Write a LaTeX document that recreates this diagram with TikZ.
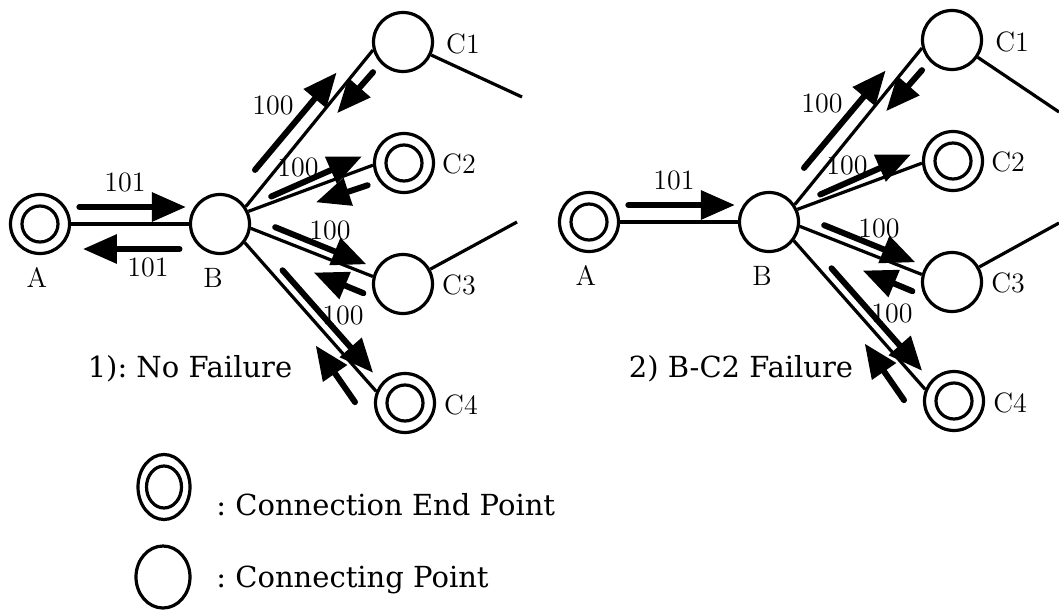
\documentclass[tikz,border=0pt]{standalone}
\usepackage{fontspec}
\usepackage{tikz}
\usetikzlibrary{arrows.meta,positioning,calc,shapes.geometric}
\newfontfamily\capfont{DejaVu Serif}

\tikzset{
  cpt/.style={circle, draw, line width=1.6pt, minimum size=29.5pt, inner sep=0pt},
  endpt/.style={cpt, path picture={\draw[line width=1.6pt] (path picture bounding box.center) circle (9pt);}},
  link/.style={line width=1.6pt},
  msg/.style={line width=3pt, line cap=round, -{Triangle[length=17pt,width=14pt]}},
  lbl/.style={font=\fontsize{14}{17}\selectfont, inner sep=1pt},
  caplbl/.style={font=\capfont\fontsize{14.5}{17}\selectfont, inner sep=1pt},
  keylbl/.style={caplbl, anchor=base west},
}

\begin{document}
\begin{tikzpicture}[x=0.5pt, y=-0.5pt]
  \useasboundingbox (0,0) rectangle (1059,610);

  % the same net twice: l = no failure, r = B-C2 failure
  \foreach \d/\dx/\dy in {l/0/0, r/549/-2} {
    \begin{scope}[shift={(\dx,\dy)}]
      \node[endpt] (\d A) at (40,224) {};
      \node[cpt] (\d B) at (220,224) {};
      \node[cpt] (\d C1) at (403,42) {};
      \node[endpt] (\d C2) at (404,163) {};
      \node[cpt] (\d C3) at (403,284) {};
      \node[endpt] (\d C4) at (405,403) {};

      \node[lbl] (\d Aname) at (37,278) {A};
      \node[lbl] (\d Bname) at (213,278) {B};
      \node[lbl] (\d C1name) at (463,44) {C1};
      \node[lbl] (\d C2name) at (459,164) {C2};
      \node[lbl] (\d C3name) at (459,285) {C3};
      \node[lbl] (\d C4name) at (461,405) {C4};

      % links
      \draw[link] (\d A) -- (\d B);
      \draw[link] (\d B.34) -- (\d C1.195);
      \draw[link] (\d B.24) -- (\d C2.184);
      \draw[link] (\d B.352) -- (\d C3.166);
      \draw[link] (\d B.323) -- (\d C4.158);

      % messages along the links
      \draw[msg] ($(\d A.east)!0.07!(\d B.west)!8.5pt!90:(\d B.west)$) -- ($(\d A.east)!0.975!(\d B.west)!8.5pt!90:(\d B.west)$);
      \foreach \p/\q/\ta/\da/\tb/\db in {B.34/C1.195/0.17/8pt/0.80/7pt, B.34/C1.195/0.915/-7pt/0.645/-6pt,
          B.24/C2.184/0.20/3pt/0.945/6pt,
          B.352/C3.166/0.17/5pt/0.92/4.5pt, B.352/C3.166/0.98/-9.5pt/0.57/-9pt,
          B.323/C4.158/0.23/5pt/0.92/5pt, B.323/C4.158/0.97/-11.5pt/0.625/-7.5pt}
        \draw[msg] ($(\d\p)!\ta!(\d\q)!\da!90:(\d\q)$) -- ($(\d\p)!\tb!(\d\q)!\db!90:(\d\q)$);

      \node[lbl] (\d mAB) at (125,182) {101};
      \node[lbl] (\d mC1) at (273,105) {100};
      \node[lbl] (\d mC2) at (298,167) {100};
      \node[lbl] (\d mC3) at (330,230) {100};
      \node[lbl] (\d mC4) at (343,315) {100};
    \end{scope}
  }

  % replies that only flow without the failure
  \draw[msg] ($(lA.east)!0.92!(lB.west)!-12.5pt!90:(lB.west)$) -- ($(lA.east)!0.10!(lB.west)!-12.5pt!90:(lB.west)$);
  \draw[msg] ($(lB.24)!0.91!(lC2.184)!-8.5pt!90:(lC2.184)$) -- ($(lB.24)!0.50!(lC2.184)!-7.5pt!90:(lC2.184)$);
  \node[lbl] (lmBA) at (148,267) {101};

  % links leaving the net
  \coordinate (lc1out) at (522,97);
  \coordinate (lc3out) at (517,222);
  \coordinate (rc1out) at (1059,112);
  \coordinate (rc3out) at (1059,223);
  \draw[link] (lC1) -- (lc1out);
  \draw[link] (lC3) -- (lc3out);
  \draw[link] (rC1) -- (rc1out);
  \draw[link] (rC3) -- (rc3out);

  \node[caplbl, anchor=base] (lcap) at (190,377) {1):\ No Failure};
  \node[caplbl, anchor=base] (rcap) at (741,377) {2) B-C2 Failure};

  % key
  \node[ellipse, draw, line width=1.6pt, minimum width=26pt, minimum height=32.5pt, inner sep=0pt,
    path picture={\draw[line width=1.6pt] (path picture bounding box.center) ellipse (8.75pt and 10.5pt);}] (keyend) at (164,487) {};
  \node[ellipse, draw, line width=1.6pt, minimum width=27pt, minimum height=31pt, inner sep=0pt] (keycon) at (163,577) {};
  \node[keylbl] (keyendtxt) at (214,515) {:\ Connection End Point};
  \node[keylbl] (keycontxt) at (214,587) {:\ Connecting Point};
\end{tikzpicture}
\end{document}
